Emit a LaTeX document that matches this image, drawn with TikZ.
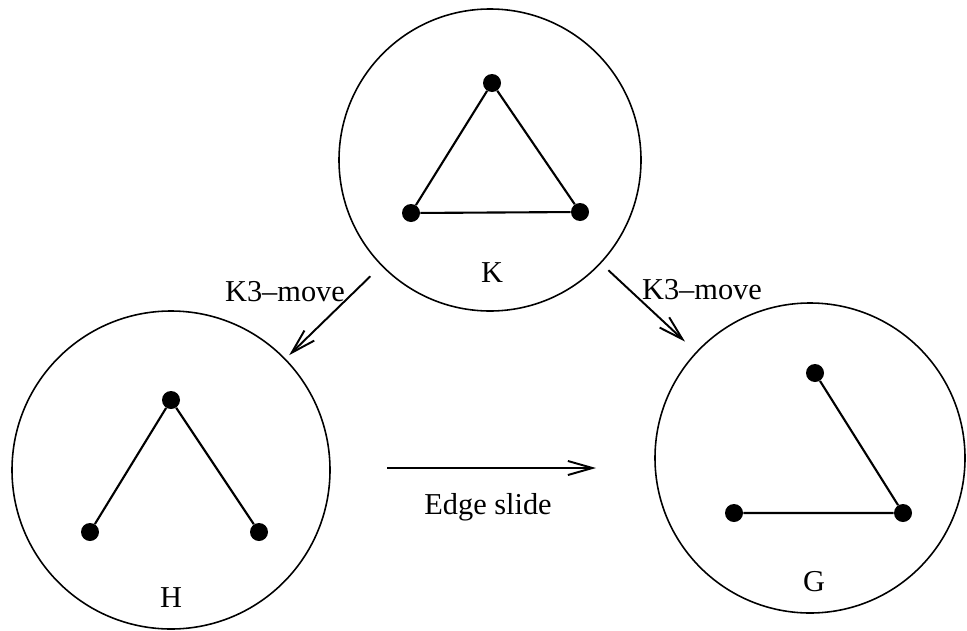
\documentclass[tikz,border=0pt]{standalone}
\usepackage{fontspec}
\setmainfont{Liberation Serif}
\usepackage{tikz}
\usetikzlibrary{arrows.meta}

\begin{document}
\begin{tikzpicture}[x=1cm,y=1cm,
  graphball/.style={draw,circle,line width=0.9pt,inner sep=0pt},
  vtx/.style={fill,circle,inner sep=0pt,minimum size=0.36cm},
  gedge/.style={line width=1.2pt},
  movearrow/.style={line width=1.1pt,-{Straight Barb[length=14pt,width=8pt,line width=1.1pt]}},
  lbl/.style={font=\LARGE}]
\path[use as bounding box] (0,0) rectangle (19.34,12.60);
% the three graphs
\node[graphball,minimum size=6.04cm] (K) at (9.80,9.40) {};
\node[graphball,minimum size=6.36cm] (H) at (3.42,3.20) {};
\node[graphball,minimum size=6.20cm] (G) at (16.20,3.44) {};
% K: triangle
\node[vtx] (k1) at (9.84,10.94) {};
\node[vtx] (k2) at (8.22,8.34) {};
\node[vtx] (k3) at (11.60,8.36) {};
\draw[gedge] (k1) -- (k2) -- (k3) -- (k1);
\node[lbl] (Klabel) at (9.84,7.14) {K};
% H: path through the top vertex
\node[vtx] (h1) at (3.42,4.60) {};
\node[vtx] (h2) at (1.80,1.96) {};
\node[vtx] (h3) at (5.18,1.96) {};
\draw[gedge] (h2) -- (h1) -- (h3);
\node[lbl] (Hlabel) at (3.42,0.64) {H};
% G: path through the right vertex
\node[vtx] (g1) at (16.30,5.14) {};
\node[vtx] (g2) at (14.68,2.34) {};
\node[vtx] (g3) at (18.06,2.34) {};
\draw[gedge] (g1) -- (g3) -- (g2);
\node[lbl] (Glabel) at (16.28,0.96) {G};
% moves
\draw[movearrow,shorten <=0.30cm,shorten >=0.10cm] (K) -- (H);
\draw[movearrow,shorten <=0.20cm,shorten >=0.30cm] (K) -- (G);
\node[lbl] (movel) at (5.70,6.76) {K3--move};
\node[lbl] (mover) at (14.04,6.80) {K3--move};
\coordinate (slideA) at (7.74,3.24);
\coordinate (slideB) at (11.92,3.24);
\draw[movearrow] (slideA) -- (slideB);
\node[lbl] (slidelbl) at (9.76,2.46) {Edge slide};
\end{tikzpicture}
\end{document}
